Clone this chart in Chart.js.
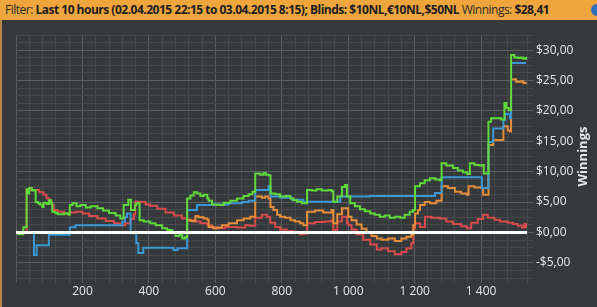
<!DOCTYPE html>
<html><head><meta charset="utf-8">
<script src="https://cdn.jsdelivr.net/npm/chart.js@4.4.0/dist/chart.umd.min.js"></script>
<style>
html,body{margin:0;padding:0;background:#36393c;width:597px;height:307px;overflow:hidden;}
#hdr{position:absolute;left:0;top:0;width:597px;height:20px;background:#f0a63c;font-family:"Open Sans",sans-serif;font-size:12px;color:#1c1c1c;line-height:20px;white-space:nowrap;}
#hdr .t{position:absolute;left:5px;top:0;letter-spacing:-0.5px;}
#hdr .r{font-weight:400;color:#2a2a2a;}
#hdr b{font-weight:700;}
#ico{position:absolute;left:591px;top:4px;width:12px;height:12px;border-radius:50%;background:#2f6fc0;}
#lb{position:absolute;left:0;top:20px;width:2px;height:287px;background:#b8884a;}
#wrap{position:absolute;left:0;top:20px;width:597px;height:287px;}
</style></head>
<body>
<div id="hdr"><span class="t"><span class="r">Filter: </span><b>Last 10 hours (02.04.2015 22:15 to 03.04.2015 8:15); Blinds: $10NL,€10NL,$50NL</b><span class="r"> Winnings: </span><b>$28,41</b></span><div id="ico"></div></div>
<div id="lb"></div>
<div id="wrap"><canvas id="c" width="597" height="287"></canvas></div>
<script>
// axis ranges / ticks
const X_MIN = 0, X_MAX = 1538, X_STEP = 40, X_LABEL_EVERY = 200;
const Y_MIN = -7.5, Y_MAX = 32.5, Y_STEP = 1.25, Y_LABEL_EVERY = 5;
const AXIS_TITLE = 'Winnings';

// series values [hand, winnings]
const green = [[4,-0.3],[22,0.85],[32,7.1],[36,6.4],[40,7.3],[48,6.9],[55,7.0],[59,5.0],[66,4.8],[72,4.6],[79,4.2],[83,4.9],[92,4.7],[99,5.3],[106,4.8],[109,3.4],[118,3.2],[125,3.0],[145,3.1],[158,2.9],[162,4.5],[170,4.8],[182,4.3],[194,4.5],[210,4.1],[225,4.3],[245,4.0],[262,3.6],[280,3.2],[300,2.8],[314,2.3],[324,4.5],[338,5.4],[346,3.7],[358,4.5],[362,4.8],[372,2.0],[385,1.8],[404,1.5],[420,1.2],[440,0.7],[455,0.4],[470,-0.1],[480,-0.6],[492,-0.4],[500,-1.0],[508,-0.8],[515,5.6],[525,6.1],[535,6.6],[545,6.4],[555,6.0],[565,6.2],[576,5.6],[580,5.2],[590,4.6],[606,4.5],[625,4.9],[645,5.2],[665,5.6],[685,6.0],[700,6.3],[712,6.7],[720,9.7],[735,9.5],[745,9.8],[752,9.5],[760,9.4],[766,6.4],[780,6.3],[795,5.9],[812,6.0],[826,5.6],[835,5.3],[846,5.05],[860,4.8],[876,7.0],[890,6.9],[905,7.1],[920,6.9],[940,7.0],[950,6.8],[955,5.05],[967,5.9],[981,7.5],[990,7.8],[996,5.9],[1006,4.8],[1020,4.3],[1035,3.8],[1050,3.5],[1066,3.1],[1080,2.9],[1095,2.6],[1110,2.8],[1125,2.4],[1140,2.6],[1156,2.4],[1170,2.9],[1185,3.4],[1195,3.7],[1201,7.6],[1216,8.1],[1230,8.6],[1246,8.9],[1262,8.7],[1275,8.6],[1281,11.4],[1295,11.0],[1315,10.6],[1330,10.2],[1345,9.9],[1358,9.6],[1366,11.4],[1380,11.1],[1395,11.0],[1405,11.1],[1408,9.7],[1422,18.2],[1430,18.8],[1445,18.8],[1460,18.6],[1470,21.3],[1476,20.5],[1483,20.1],[1490,29.2],[1500,28.8],[1512,28.7],[1520,28.8],[1527,28.6],[1535,28.9]];
const blue = [[4,0],[54,-3.7],[62,-2.1],[99,-0.4],[162,0.85],[179,1.2],[320,1.8],[328,2.5],[334,3.1],[345,-0.15],[362,-1.8],[368,-3.4],[383,-2.5],[474,-2.9],[486,-2.6],[515,3.7],[545,4.5],[594,4.6],[640,4.8],[680,5.0],[700,5.2],[720,7.0],[760,7.6],[766,5.9],[795,5.7],[830,5.4],[865,5.05],[976,5.9],[1065,6.0],[1261,6.5],[1281,9.07],[1402,7.3],[1422,14.9],[1436,17.1],[1467,18.5],[1472,19.5],[1487,18.8],[1490,27.9],[1535,27.9]];
const orange = [[515,2.1],[525,1.9],[540,2.7],[549,2.5],[565,2.3],[576,2.1],[580,0.9],[594,0.7],[606,0.8],[620,1.2],[640,1.5],[665,2.0],[685,2.3],[705,2.6],[720,5.9],[740,5.7],[750,5.9],[760,5.6],[766,4.2],[775,3.7],[786,2.9],[795,2.6],[810,2.4],[826,2.0],[840,1.8],[855,1.5],[865,1.2],[876,3.4],[900,3.6],[925,3.3],[950,3.7],[955,1.5],[967,3.0],[981,4.0],[996,4.0],[1000,2.6],[1010,2.0],[1025,1.3],[1040,0.6],[1055,0.0],[1070,-0.6],[1086,-1.0],[1100,-1.2],[1120,-1.0],[1140,-1.4],[1160,-1.0],[1175,-0.7],[1190,-0.4],[1196,1.2],[1201,3.1],[1210,3.7],[1216,4.5],[1230,5.0],[1246,4.8],[1265,5.2],[1281,7.6],[1300,7.3],[1321,6.7],[1340,6.4],[1357,6.2],[1362,7.6],[1380,7.4],[1400,7.3],[1406,6.2],[1422,14.4],[1436,15.2],[1467,17.5],[1480,16.8],[1487,16.6],[1490,25.2],[1505,24.8],[1520,24.9],[1527,24.6],[1535,24.7]];
const red = [[4,0],[32,7.0],[59,7.0],[70,6.6],[83,6.2],[92,5.6],[100,5.0],[108,4.5],[113,3.7],[125,3.4],[145,3.1],[160,3.3],[180,3.4],[200,3.1],[220,2.7],[245,2.3],[270,1.9],[295,1.5],[314,1.2],[329,1.5],[345,2.2],[355,3.0],[359,5.05],[374,5.0],[390,4.6],[404,4.4],[425,3.9],[450,3.3],[475,2.8],[500,2.3],[515,2.0],[535,1.8],[555,1.5],[576,1.2],[590,0.8],[606,0.7],[630,0.9],[666,0.8],[690,1.2],[705,1.1],[720,2.4],[740,2.9],[755,2.6],[765,1.6],[780,0.9],[795,0.5],[815,0.2],[835,0.0],[855,-0.3],[865,-0.2],[876,1.5],[900,1.7],[930,1.8],[950,2.0],[955,0.4],[967,1.8],[981,2.6],[996,1.6],[1000,1.2],[1010,0.5],[1025,-0.3],[1045,-1.2],[1066,-2.0],[1086,-2.8],[1100,-2.6],[1120,-3.1],[1140,-3.6],[1160,-3.2],[1175,-2.6],[1190,-1.8],[1196,0.7],[1201,1.5],[1216,0.9],[1231,2.6],[1250,2.4],[1276,2.3],[1295,1.8],[1315,1.4],[1340,1.0],[1357,0.7],[1370,1.6],[1390,2.2],[1406,2.9],[1420,2.4],[1440,2.1],[1457,1.8],[1480,1.6],[1496,1.4],[1510,1.1],[1523,0.8],[1530,1.4],[1535,0.7]];

const toXY = a => a.map(p => ({x: p[0], y: p[1]}));
const MAJOR = '#5c5f62', MINOR = '#46494c', LBL = '#e6e6e6';

const titlePlugin = {
  id: 'ytitle',
  afterDraw(chart) {
    const ctx = chart.ctx, a = chart.chartArea;
    ctx.save();
    ctx.translate(583, (a.top + a.bottom) / 2);
    ctx.rotate(-Math.PI / 2);
    ctx.font = 'bold 13px "Open Sans"';
    ctx.fillStyle = LBL;
    ctx.textAlign = 'center';
    ctx.textBaseline = 'middle';
    ctx.fillText(AXIS_TITLE, 0, 0);
    ctx.restore();
  }
};

const ds = (label, arr, color) => ({label, data: toXY(arr), borderColor: color, borderWidth: 2, pointRadius: 0, stepped: true, fill: false});

new Chart(document.getElementById('c'), {
  type: 'line',
  data: {datasets: [
    {label: 'zero', data: [{x: X_MIN, y: 0}, {x: X_MAX, y: 0}], borderColor: '#ffffff', borderWidth: 3, pointRadius: 0, fill: false},
    ds('green', green, '#5fd93a'),
    ds('blue', blue, '#3c98d4'),
    ds('orange', orange, '#e58e3a'),
    ds('red', red, '#d54b4b')
  ]},
  options: {
    responsive: false, animation: false, events: [],
    layout: {padding: {left: 16, top: 15, right: 0, bottom: 0}},
    plugins: {legend: {display: false}, tooltip: {enabled: false}},
    scales: {
      x: {
        type: 'linear', min: X_MIN, max: X_MAX,
        afterFit: s => { s.height = 29; },
        border: {display: false},
        grid: {color: c => (c.tick && c.tick.value % X_LABEL_EVERY === 0) ? MAJOR : MINOR, tickLength: 5, lineWidth: 1},
        ticks: {stepSize: X_STEP, autoSkip: false, maxRotation: 0, padding: 1, color: LBL, font: {family: '"Open Sans"', size: 12},
          callback: v => (v > 0 && v % X_LABEL_EVERY === 0) ? (v >= 1000 ? Math.floor(v/1000) + ' ' + String(v % 1000).padStart(3, '0') : String(v)) : ''}
      },
      y: {
        type: 'linear', position: 'right', min: Y_MIN, max: Y_MAX,
        afterFit: s => { s.width = 70; },
        border: {display: false},
        grid: {color: c => (c.tick && Math.abs(c.tick.value % Y_LABEL_EVERY) < 1e-6) ? MAJOR : MINOR, tickLength: 6, lineWidth: 1},
        ticks: {stepSize: Y_STEP, autoSkip: false, padding: 3, color: LBL, font: {family: '"Open Sans"', size: 12},
          callback: v => Math.abs(v % Y_LABEL_EVERY) < 1e-6 ? ((v < 0 ? '-$' : '$') + Math.abs(v).toFixed(2).replace('.', ',')) : ''}
      }
    }
  },
  plugins: [titlePlugin]
});
</script>
</body></html>
